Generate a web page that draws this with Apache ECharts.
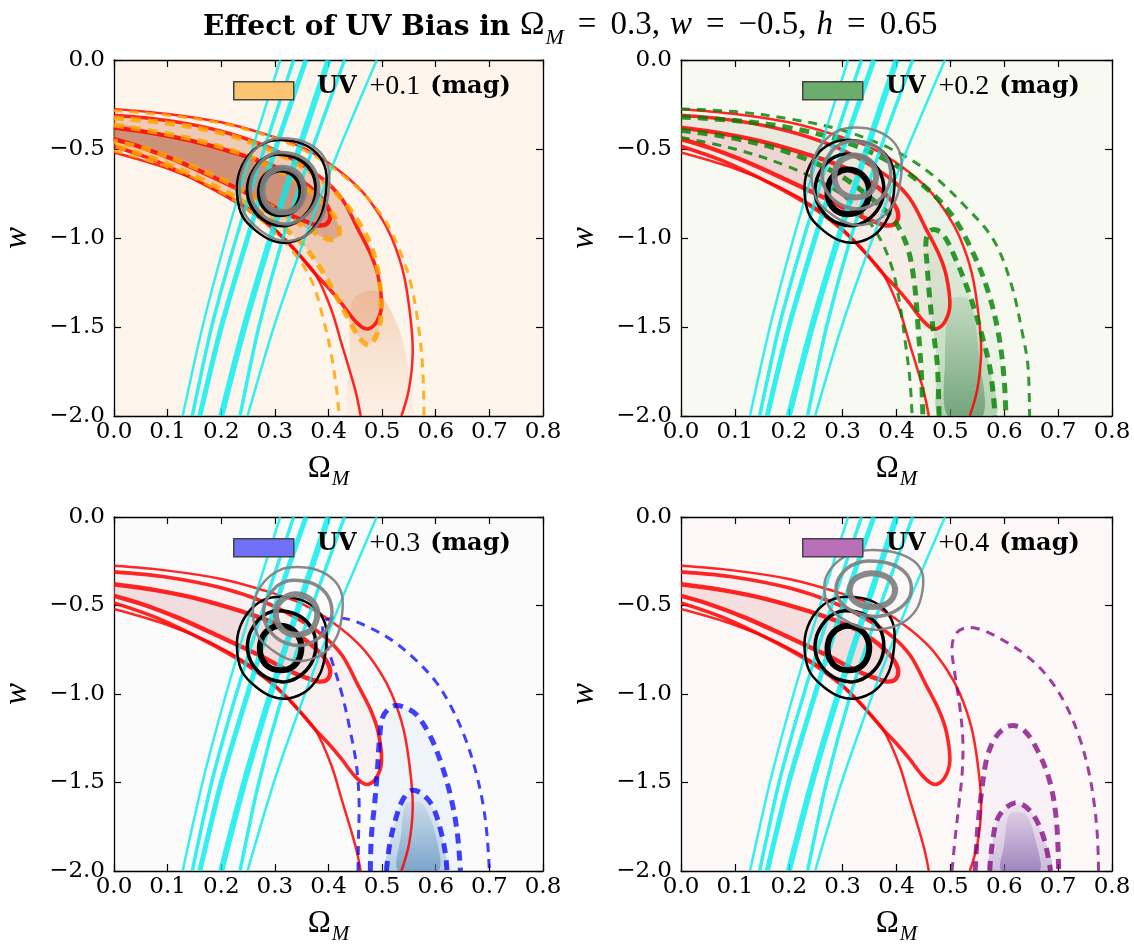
<!DOCTYPE html>
<html>
<head>
<meta charset="utf-8">
<title>Effect of UV Bias</title>
<script src="https://cdn.jsdelivr.net/npm/echarts@6/dist/echarts.min.js"></script>
<style>
html,body{margin:0;padding:0;background:#ffffff;}
#chart{width:1134px;height:946px;}
</style>
</head>
<body>
<div id="chart"></div>
<script>
// ---------- tick labels / text ----------
const xTickLabels = ['0.0','0.1','0.2','0.3','0.4','0.5','0.6','0.7','0.8'];
const yTickLabels = ['0.0','\u22120.5','\u22121.0','\u22121.5','\u22122.0'];
const panelShifts = ['+0.1','+0.2','+0.3','+0.4'];

// ---------- cyan contour lines (x, w) ----------
const cyanA = [[0.31,0],[0.258,-0.5],[0.209,-1.0],[0.165,-1.5],[0.128,-2.0]];
const cyanB = [[0.335,0],[0.28,-0.5],[0.228,-1.0],[0.182,-1.5],[0.146,-2.0]];
const cyanC = [[0.358,0],[0.301,-0.5],[0.249,-1.0],[0.2,-1.5],[0.16,-2.0]];
const cyanD = [[0.4,0],[0.345,-0.5],[0.292,-1.0],[0.243,-1.5],[0.2,-2.0]];
const cyanE = [[0.43,0],[0.37,-0.5],[0.315,-1.0],[0.27,-1.5],[0.235,-2.0]];
const cyanF = [[0.49,0],[0.42,-0.5],[0.356,-1.0],[0.298,-1.5],[0.249,-2.0]];

// ---------- red (fiducial) contours ----------
const redOuterUpper = [[0,-0.276],[0.1,-0.303],[0.2,-0.35],[0.28,-0.415],[0.35,-0.49],[0.41,-0.6],[0.46,-0.73],[0.495,-0.87],[0.518,-1.0],[0.54,-1.2],[0.553,-1.45],[0.557,-1.65],[0.55,-1.85],[0.536,-2.0]];
const redOuterLower = [[0,-0.52],[0.1,-0.61],[0.18,-0.71],[0.25,-0.83],[0.3,-0.95],[0.34,-1.08],[0.375,-1.2],[0.405,-1.4],[0.425,-1.6],[0.44,-1.75],[0.452,-1.88],[0.46,-2.0]];
const redMid = [[0,-0.31],[0.1,-0.34],[0.2,-0.4],[0.28,-0.48],[0.34,-0.57],[0.39,-0.67],[0.425,-0.78],[0.455,-0.95],[0.48,-1.1],[0.493,-1.22],[0.499,-1.38],[0.49,-1.47],[0.475,-1.51],[0.462,-1.5],[0.445,-1.45],[0.425,-1.37],[0.4,-1.28],[0.375,-1.2],[0.35,-1.11],[0.326,-1.03],[0.29,-0.93],[0.24,-0.82],[0.17,-0.7],[0.08,-0.57],[0,-0.485]];
const redInner = [[0,-0.38],[0.08,-0.415],[0.16,-0.465],[0.24,-0.535],[0.3,-0.6],[0.35,-0.68],[0.385,-0.77],[0.402,-0.85],[0.4,-0.91],[0.385,-0.93],[0.36,-0.91],[0.32,-0.86],[0.27,-0.78],[0.2,-0.68],[0.12,-0.57],[0.05,-0.49],[0,-0.445]];

// ---------- black (reference) contours ----------
const blackOuter = [[0.31,-0.45],[0.35,-0.47],[0.38,-0.53],[0.395,-0.62],[0.395,-0.75],[0.385,-0.88],[0.36,-0.98],[0.325,-1.025],[0.295,-1.015],[0.265,-0.96],[0.24,-0.88],[0.23,-0.77],[0.232,-0.65],[0.25,-0.54],[0.278,-0.47]];
const blackMid = [[0.305,-0.53],[0.34,-0.55],[0.365,-0.61],[0.376,-0.7],[0.372,-0.8],[0.352,-0.885],[0.322,-0.93],[0.29,-0.915],[0.265,-0.86],[0.25,-0.77],[0.252,-0.67],[0.268,-0.585],[0.285,-0.545]];
const blackInner = [[0.308,-0.615],[0.332,-0.635],[0.347,-0.695],[0.348,-0.775],[0.335,-0.842],[0.31,-0.866],[0.286,-0.842],[0.273,-0.775],[0.275,-0.69],[0.288,-0.638]];

// ---------- gray (biased) contours, one set per panel ----------
const gray1Outer = [[0.315,-0.44],[0.355,-0.46],[0.385,-0.52],[0.40,-0.61],[0.40,-0.74],[0.39,-0.87],[0.365,-0.97],[0.33,-1.015],[0.30,-1.005],[0.27,-0.95],[0.245,-0.87],[0.235,-0.76],[0.237,-0.64],[0.255,-0.53],[0.283,-0.46]];
const gray1Mid = [[0.31,-0.52],[0.345,-0.54],[0.37,-0.6],[0.381,-0.69],[0.377,-0.79],[0.357,-0.875],[0.327,-0.92],[0.295,-0.905],[0.27,-0.85],[0.255,-0.76],[0.257,-0.66],[0.273,-0.575],[0.29,-0.535]];
const gray1Inner = [[0.313,-0.605],[0.337,-0.625],[0.352,-0.685],[0.353,-0.765],[0.34,-0.832],[0.315,-0.856],[0.291,-0.832],[0.278,-0.765],[0.28,-0.68],[0.293,-0.628]];

const gray2Outer = [[0.323,-0.379],[0.363,-0.398],[0.393,-0.455],[0.408,-0.541],[0.408,-0.664],[0.398,-0.788],[0.373,-0.883],[0.338,-0.926],[0.308,-0.916],[0.278,-0.864],[0.253,-0.788],[0.243,-0.683],[0.245,-0.569],[0.263,-0.465],[0.291,-0.398]];
const gray2Mid = [[0.318,-0.455],[0.353,-0.474],[0.378,-0.531],[0.389,-0.617],[0.385,-0.712],[0.365,-0.793],[0.335,-0.835],[0.303,-0.821],[0.278,-0.769],[0.263,-0.683],[0.265,-0.588],[0.281,-0.508],[0.298,-0.47]];
const gray2Inner = [[0.321,-0.536],[0.345,-0.557],[0.36,-0.612],[0.361,-0.683],[0.349,-0.748],[0.323,-0.772],[0.299,-0.748],[0.286,-0.683],[0.288,-0.602],[0.301,-0.558]];

const gray3Outer = [[0.34,-0.283],[0.38,-0.301],[0.41,-0.357],[0.425,-0.439],[0.425,-0.559],[0.415,-0.679],[0.39,-0.771],[0.355,-0.812],[0.325,-0.803],[0.295,-0.752],[0.27,-0.679],[0.26,-0.577],[0.262,-0.467],[0.28,-0.366],[0.308,-0.301]];
const gray3Mid = [[0.335,-0.357],[0.37,-0.375],[0.395,-0.43],[0.406,-0.513],[0.402,-0.605],[0.382,-0.683],[0.352,-0.725],[0.32,-0.711],[0.295,-0.66],[0.28,-0.577],[0.282,-0.485],[0.298,-0.407],[0.315,-0.37]];
const gray3Inner = [[0.338,-0.437],[0.362,-0.456],[0.377,-0.51],[0.378,-0.578],[0.366,-0.642],[0.34,-0.665],[0.316,-0.642],[0.303,-0.578],[0.305,-0.5],[0.318,-0.457]];

const gray4Outer = [[0.355,-0.186],[0.399,-0.202],[0.432,-0.249],[0.448,-0.319],[0.448,-0.42],[0.437,-0.522],[0.41,-0.6],[0.371,-0.635],[0.338,-0.627],[0.305,-0.584],[0.278,-0.522],[0.267,-0.436],[0.269,-0.342],[0.289,-0.256],[0.32,-0.202]];
const gray4Mid = [[0.349,-0.249],[0.388,-0.264],[0.415,-0.311],[0.427,-0.381],[0.423,-0.459],[0.401,-0.525],[0.368,-0.561],[0.333,-0.549],[0.305,-0.506],[0.289,-0.436],[0.291,-0.358],[0.308,-0.291],[0.327,-0.26]];
const gray4Inner = [[0.353,-0.318],[0.379,-0.334],[0.395,-0.38],[0.396,-0.438],[0.382,-0.49],[0.355,-0.509],[0.329,-0.49],[0.314,-0.438],[0.317,-0.37],[0.331,-0.334]];

// ---------- UV +0.1 (orange) ----------
const orangeOuterUpper = [[0,-0.285],[0.1,-0.31],[0.2,-0.355],[0.28,-0.42],[0.35,-0.5],[0.41,-0.61],[0.465,-0.75],[0.505,-0.9],[0.53,-1.05],[0.553,-1.25],[0.568,-1.5],[0.576,-1.75],[0.578,-2.0]];
const orangeOuterLower = [[0,-0.51],[0.1,-0.6],[0.18,-0.71],[0.25,-0.84],[0.3,-0.97],[0.34,-1.1],[0.37,-1.25],[0.39,-1.45],[0.405,-1.65],[0.415,-1.85],[0.42,-2.0]];
const orangeMid = [[0,-0.325],[0.1,-0.355],[0.2,-0.41],[0.28,-0.49],[0.34,-0.58],[0.39,-0.68],[0.43,-0.8],[0.46,-0.93],[0.48,-1.05],[0.493,-1.2],[0.498,-1.38],[0.493,-1.52],[0.476,-1.6],[0.46,-1.57],[0.44,-1.47],[0.415,-1.33],[0.385,-1.17],[0.35,-1.03],[0.31,-0.93],[0.25,-0.81],[0.17,-0.68],[0.08,-0.56],[0,-0.48]];
const orangeInner = [[0,-0.365],[0.08,-0.405],[0.16,-0.455],[0.24,-0.53],[0.3,-0.61],[0.35,-0.7],[0.39,-0.8],[0.415,-0.9],[0.42,-0.98],[0.405,-1.01],[0.38,-0.98],[0.34,-0.91],[0.29,-0.82],[0.22,-0.7],[0.14,-0.59],[0.06,-0.5],[0,-0.455]];
const orangeTail = [[0.445,-1.35],[0.49,-1.3],[0.53,-1.5],[0.55,-1.75],[0.55,-2.0],[0.44,-2.0],[0.44,-1.7]];

// ---------- UV +0.2 (green) ----------
const greenOuterUpper = [[0,-0.275],[0.1,-0.29],[0.2,-0.33],[0.3,-0.395],[0.39,-0.5],[0.46,-0.63],[0.53,-0.83],[0.58,-1.01],[0.613,-1.26],[0.634,-1.54],[0.644,-1.72],[0.647,-2.0]];
const greenOuterLower = [[0,-0.435],[0.1,-0.5],[0.2,-0.6],[0.28,-0.72],[0.33,-0.84],[0.365,-0.98],[0.39,-1.15],[0.405,-1.35],[0.417,-1.6],[0.425,-1.8],[0.429,-2.0]];
const greenMidUpper = [[0,-0.32],[0.1,-0.34],[0.2,-0.38],[0.3,-0.455],[0.38,-0.56],[0.44,-0.68],[0.5,-0.86],[0.54,-1.07],[0.57,-1.3],[0.59,-1.55],[0.6,-1.8],[0.603,-2.0]];
const greenMidLower = [[0,-0.395],[0.1,-0.44],[0.2,-0.52],[0.29,-0.64],[0.35,-0.77],[0.395,-0.9],[0.42,-1.05],[0.433,-1.25],[0.44,-1.5],[0.446,-1.75],[0.449,-2.0]];
const greenInner = [[0.479,-2.0],[0.476,-1.72],[0.469,-1.54],[0.462,-1.35],[0.457,-1.16],[0.455,-1.01],[0.465,-0.955],[0.485,-0.975],[0.51,-1.12],[0.537,-1.33],[0.558,-1.54],[0.574,-1.74],[0.583,-2.0]];
const greenCore = [[0.5,-1.35],[0.535,-1.35],[0.555,-1.7],[0.56,-2.0],[0.495,-2.0],[0.49,-1.7]];

// ---------- UV +0.3 (blue) ----------
const blueOuter = [[0.455,-2.0],[0.456,-1.8],[0.457,-1.6],[0.452,-1.4],[0.44,-1.2],[0.425,-1.0],[0.405,-0.8],[0.39,-0.66],[0.392,-0.59],[0.41,-0.57],[0.44,-0.58],[0.48,-0.63],[0.52,-0.7],[0.56,-0.8],[0.6,-0.93],[0.63,-1.08],[0.655,-1.25],[0.673,-1.42],[0.688,-1.62],[0.696,-1.81],[0.7,-2.0]];
const blueMid = [[0.478,-2.0],[0.48,-1.8],[0.486,-1.62],[0.491,-1.44],[0.495,-1.26],[0.5,-1.14],[0.51,-1.09],[0.525,-1.065],[0.545,-1.08],[0.565,-1.12],[0.59,-1.24],[0.61,-1.39],[0.628,-1.58],[0.64,-1.78],[0.646,-2.0]];
const blueInner = [[0.508,-2.0],[0.514,-1.85],[0.524,-1.72],[0.538,-1.6],[0.555,-1.545],[0.575,-1.565],[0.595,-1.64],[0.61,-1.78],[0.618,-1.9],[0.621,-2.0]];
const blueCore = [[0.545,-1.62],[0.575,-1.62],[0.6,-1.8],[0.605,-2.0],[0.53,-2.0],[0.535,-1.8]];

// ---------- UV +0.4 (purple) ----------
const purpleOuter = [[0.503,-2.0],[0.509,-1.81],[0.516,-1.62],[0.522,-1.44],[0.523,-1.25],[0.517,-1.06],[0.508,-0.88],[0.503,-0.74],[0.51,-0.66],[0.53,-0.625],[0.56,-0.64],[0.6,-0.7],[0.64,-0.78],[0.68,-0.9],[0.714,-1.06],[0.74,-1.25],[0.757,-1.44],[0.767,-1.62],[0.773,-1.81],[0.775,-2.0]];
const purpleMid = [[0.546,-2.0],[0.551,-1.75],[0.558,-1.55],[0.568,-1.36],[0.585,-1.24],[0.61,-1.18],[0.635,-1.2],[0.662,-1.32],[0.685,-1.5],[0.697,-1.72],[0.701,-2.0]];
const purpleInner = [[0.573,-2.0],[0.578,-1.84],[0.59,-1.69],[0.62,-1.615],[0.648,-1.66],[0.672,-1.8],[0.686,-2.0]];
const purpleCore = [[0.61,-1.68],[0.64,-1.68],[0.66,-1.85],[0.665,-2.0],[0.595,-2.0],[0.6,-1.85]];

// ---------- layout ----------
const GRIDS = [
  {left:112, top:60}, {left:681, top:60},
  {left:112, top:517}, {left:681, top:517}
];
const GW = 431, GH = 356;
const TICK_FONT = 'DejaVu Serif';
const MATH_FONT = 'Liberation Serif';

function grad(c0, c1) {
  return {type:'linear', x:0, y:0, x2:0, y2:1, colorStops:[{offset:0,color:c0},{offset:1,color:c1}]};
}
function revConcat(a, b) { return a.concat(b.slice().reverse()); }

const ORANGE = 'rgba(255,165,0,0.85)';
const GREEN = 'rgba(0,128,0,0.8)';
const BLUE = 'rgba(0,0,255,0.75)';
const PURPLE = 'rgba(128,0,128,0.75)';
const THIN_DASH = [9,7], THICK_DASH = [10,7];

const panels = [
  { bg:'#fdf5ec', legendFill:'rgba(250,196,112,1)',
    fills:[
      [redMid,'rgba(230,165,130,0.22)'],
      [orangeMid,'rgba(215,140,100,0.28)'],
      [redInner,'rgba(190,110,85,0.35)'],
      [orangeInner,'rgba(175,100,70,0.35)'],
      [orangeTail, grad('rgba(232,165,120,0.45)','rgba(245,205,170,0.12)')]
    ],
    lines:[
      [orangeOuterUpper, ORANGE, 3, THIN_DASH],
      [orangeOuterLower, ORANGE, 3, THIN_DASH],
      [orangeMid, ORANGE, 5, THICK_DASH],
      [orangeInner, ORANGE, 5, THICK_DASH]
    ],
    gray:[gray1Outer, gray1Mid, gray1Inner] },
  { bg:'#f8f9f1', legendFill:'rgba(108,172,108,1)',
    fills:[
      [redMid,'rgba(235,185,185,0.18)'],
      [redInner,'rgba(230,170,170,0.35)'],
      [revConcat(greenMidUpper, greenMidLower),'rgba(165,205,160,0.12)'],
      [greenInner, grad('rgba(150,200,150,0.12)','rgba(90,155,100,0.4)')],
      [greenCore, grad('rgba(90,150,100,0.15)','rgba(60,125,80,0.55)')]
    ],
    lines:[
      [greenOuterUpper, GREEN, 3, THIN_DASH],
      [greenOuterLower, GREEN, 3, THIN_DASH],
      [greenMidUpper, GREEN, 5, THICK_DASH],
      [greenMidLower, GREEN, 5, THICK_DASH],
      [greenInner, GREEN, 5, THICK_DASH]
    ],
    gray:[gray2Outer, gray2Mid, gray2Inner] },
  { bg:'#fbfbfc', legendFill:'rgba(112,112,248,1)',
    fills:[
      [redMid,'rgba(235,190,190,0.15)'],
      [redInner,'rgba(230,175,175,0.3)'],
      [blueMid,'rgba(160,195,225,0.12)'],
      [blueInner, grad('rgba(140,180,215,0.15)','rgba(90,145,190,0.4)')],
      [blueCore, grad('rgba(90,145,190,0.15)','rgba(60,120,175,0.5)')]
    ],
    lines:[
      [blueOuter, BLUE, 3, THIN_DASH],
      [blueMid, BLUE, 5, THICK_DASH],
      [blueInner, BLUE, 5, THICK_DASH]
    ],
    gray:[gray3Outer, gray3Mid, gray3Inner] },
  { bg:'#fdf8f8', legendFill:'rgba(184,112,184,1)',
    fills:[
      [redMid,'rgba(235,195,195,0.12)'],
      [redInner,'rgba(232,180,180,0.3)'],
      [purpleMid,'rgba(200,180,215,0.1)'],
      [purpleInner, grad('rgba(175,150,205,0.15)','rgba(135,100,175,0.4)')],
      [purpleCore, grad('rgba(135,100,175,0.15)','rgba(115,75,160,0.5)')]
    ],
    lines:[
      [purpleOuter, PURPLE, 3, THIN_DASH],
      [purpleMid, PURPLE, 5, THICK_DASH],
      [purpleInner, PURPLE, 5, THICK_DASH]
    ],
    gray:[gray4Outer, gray4Mid, gray4Inner] }
];

function curve(gi, pts, o) {
  return {
    type:'custom', coordinateSystem:'cartesian2d',
    xAxisIndex: gi*2, yAxisIndex: gi*2,
    clip:true, silent:true, animation:false,
    data:[[0.4,-1]],
    renderItem: function (params, api) {
      const points = pts.map(function (p) { return api.coord(p); });
      return {
        type: o.closed ? 'polygon' : 'polyline',
        shape: { points: points, smooth: o.smooth == null ? 0.35 : o.smooth },
        style: {
          fill: o.fill || 'none',
          stroke: o.stroke || 'none',
          lineWidth: o.width || 0,
          lineDash: o.dash || null,
          lineCap: 'butt', lineJoin: 'round'
        }
      };
    }
  };
}

const RED = 'rgba(255,0,0,0.85)';
const CYAN = 'rgba(0,238,238,0.8)';
const cyanLines = [[cyanA,2.5],[cyanB,3.5],[cyanC,5],[cyanD,6],[cyanE,3.5],[cyanF,2.5]];
const redLines = [[redOuterUpper,2.5],[redOuterLower,2.5],[redMid,3.6],[redInner,4.4]];
const blackRings = [[blackOuter,2.5],[blackMid,3.5],[blackInner,6]];
const ringWidths = [2.5,3.5,6];

const grid = [], xAxis = [], yAxis = [], series = [], graphic = [];
const axisLineStyle = {color:'#000', width:1.3};
GRIDS.forEach(function (g, gi) {
  const P = panels[gi];
  grid.push({left:g.left, top:g.top, width:GW, height:GH, show:true, backgroundColor:P.bg, borderWidth:0});
  const xBase = {gridIndex:gi, type:'value', min:0, max:0.8, interval:0.1,
    axisLine:{show:true, onZero:false, lineStyle:axisLineStyle},
    axisTick:{show:true, inside:true, length:7, lineStyle:{color:'#000', width:1.2}},
    splitLine:{show:false}};
  xAxis.push(Object.assign({}, xBase, {position:'bottom',
    axisLabel:{show:true, margin:5, color:'#000', fontFamily:TICK_FONT, fontSize:23,
      formatter:function (v) { return xTickLabels[Math.round(v*10)]; }},
    name:'{a|\u03A9}{s|M}', nameLocation:'middle', nameGap:38,
    nameTextStyle:{rich:{
      a:{fontFamily:MATH_FONT, fontSize:31, color:'#000', verticalAlign:'bottom', lineHeight:30},
      s:{fontFamily:MATH_FONT, fontStyle:'italic', fontSize:21, color:'#000', verticalAlign:'bottom', lineHeight:22, padding:[0,0,-6,1]}
    }}}));
  xAxis.push(Object.assign({}, xBase, {position:'top', axisLabel:{show:false}}));
  const yBase = {gridIndex:gi, type:'value', min:-2, max:0, interval:0.5,
    axisLine:{show:true, onZero:false, lineStyle:axisLineStyle},
    axisTick:{show:true, inside:true, length:7, lineStyle:{color:'#000', width:1.2}},
    splitLine:{show:false}};
  yAxis.push(Object.assign({}, yBase, {position:'left',
    axisLabel:{show:true, margin:9, color:'#000', fontFamily:TICK_FONT, fontSize:23,
      formatter:function (v) { return yTickLabels[Math.round(-v*2)]; }},
    name:'w', nameLocation:'middle', nameGap:80, nameRotate:90,
    nameTextStyle:{fontFamily:MATH_FONT, fontStyle:'italic', fontSize:33, color:'#000'}}));
  yAxis.push(Object.assign({}, yBase, {position:'right', axisLabel:{show:false}}));

  P.fills.forEach(function (f) { series.push(curve(gi, f[0], {closed:true, fill:f[1], smooth:0.3})); });
  redLines.forEach(function (r) { series.push(curve(gi, r[0], {stroke:RED, width:r[1]})); });
  P.lines.forEach(function (l) { series.push(curve(gi, l[0], {stroke:l[1], width:l[2], dash:l[3]})); });
  cyanLines.forEach(function (c) { series.push(curve(gi, c[0], {stroke:CYAN, width:c[1], smooth:0.25})); });
  blackRings.forEach(function (b) { series.push(curve(gi, b[0], {closed:true, stroke:'#000', width:b[1]})); });
  P.gray.forEach(function (ring, k) { series.push(curve(gi, ring, {closed:true, stroke:'rgba(128,128,128,0.93)', width:ringWidths[k]})); });

  graphic.push({type:'rect', left:g.left+121, top:g.top+21, z:100,
    shape:{width:60, height:18}, style:{fill:P.legendFill, stroke:'#444', lineWidth:1.5}});
  graphic.push({type:'text', left:g.left+205, top:g.top+13, z:100,
    style:{text:'{b|UV}{r|' + panelShifts[gi] + '}{b|(mag)}', rich:{
      b:{fontFamily:'DejaVu Serif', fontWeight:'bold', fontSize:24, fill:'#000'},
      r:{fontFamily:MATH_FONT, fontWeight:'normal', fontSize:28, fill:'#000', padding:[0,10,0,13]}
    }}});
});

const chart = echarts.init(document.getElementById('chart'), null, {renderer:'canvas'});
const T = {fontFamily:MATH_FONT, fontWeight:'normal', fontSize:33, color:'#000', verticalAlign:'bottom', lineHeight:36};
chart.setOption({
  animation:false,
  backgroundColor:'#ffffff',
  title:{
    text:'{b|Effect of UV Bias in }{a|\u03A9}{s|M}{e|=}{r|0.3,}{i|w}{e|=}{r|\u22120.5,}{i|h}{e|=}{r|0.65}',
    left:198, top:1,
    textStyle:{fontWeight:'normal', rich:{
      b:{fontFamily:'DejaVu Serif', fontWeight:'bold', fontSize:28, color:'#000', verticalAlign:'bottom', lineHeight:35},
      a:T,
      s:{fontFamily:MATH_FONT, fontWeight:'normal', fontStyle:'italic', fontSize:22, color:'#000', verticalAlign:'bottom', lineHeight:27, padding:[0,0,-7,1]},
      e:Object.assign({}, T, {padding:[0,14,0,14]}),
      r:Object.assign({}, T, {padding:[0,10,0,0]}),
      i:Object.assign({}, T, {fontStyle:'italic'})
    }}
  },
  grid:grid, xAxis:xAxis, yAxis:yAxis, series:series, graphic:graphic
});
</script>
</body>
</html>
